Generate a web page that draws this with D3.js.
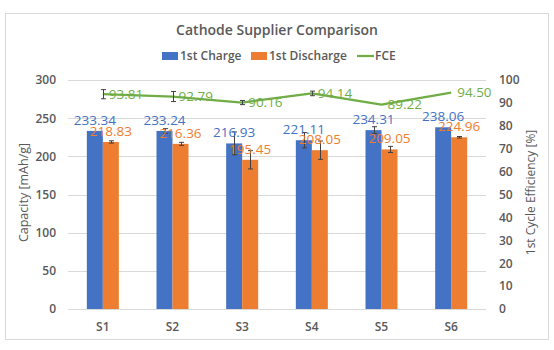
<!DOCTYPE html>
<html>
<head>
<meta charset="utf-8">
<script src="https://cdn.jsdelivr.net/npm/d3@7/dist/d3.min.js"></script>
<style>
  body { margin: 0; background: #fff; }
  text { font-family: "Open Sans", "Noto Sans", sans-serif; }
</style>
</head>
<body>
<div id="chart"></div>
<script>
// data
const suppliers = ['S1', 'S2', 'S3', 'S4', 'S5', 'S6'];
const charge = [233.34, 233.24, 216.93, 221.11, 234.31, 238.06];
const discharge = [218.83, 216.36, 195.45, 208.05, 209.05, 224.96];
const fce = [93.81, 92.79, 90.16, 94.14, 89.22, 94.50];
// error bar half widths (estimated)
const chargeErr = [0, 3, 15, 10, 4.5, 0];
const dischargeErr = [1.5, 2, 12, 12, 4, 1];
const fceErr = [2, 2.2, 0.9, 1, 0, 0];
const leftTicks = [0, 50, 100, 150, 200, 250, 300];
const rightTicks = [0, 10, 20, 30, 40, 50, 60, 70, 80, 90, 100];

const W = 554, H = 350;
const margin = { top: 80, right: 68, bottom: 41, left: 68 };
const width = W - margin.left - margin.right;
const height = H - margin.top - margin.bottom;

const blue = '#4472C4', orange = '#ED7D31', green = '#70AD47', gray = '#595959';

const svg = d3.select('#chart').append('svg')
  .attr('width', W)
  .attr('height', H);

// outer chart border
svg.append('rect')
  .attr('x', 5.5).attr('y', 13.5)
  .attr('width', 543).attr('height', 326)
  .attr('fill', '#fff')
  .attr('stroke', '#d9d9d9');

svg.append('text')
  .attr('x', 277).attr('y', 35)
  .attr('text-anchor', 'middle')
  .attr('font-size', 14).attr('font-weight', 600)
  .attr('fill', gray)
  .text('Cathode Supplier Comparison');

const g = svg.append('g').attr('transform', `translate(${margin.left},${margin.top})`);

const x = d3.scaleBand().domain(suppliers).range([0, width]);
const yL = d3.scaleLinear().domain([0, 300]).range([height, 0]);
const yR = d3.scaleLinear().domain([0, 100]).range([height, 0]);

// gridlines
g.selectAll('.grid')
  .data(leftTicks)
  .join('line')
  .attr('x1', 0).attr('x2', width)
  .attr('y1', d => Math.round(yL(d)) + 0.5)
  .attr('y2', d => Math.round(yL(d)) + 0.5)
  .attr('stroke', '#d9d9d9');

// axes
const leftAxis = g.append('g')
  .call(d3.axisLeft(yL).tickValues(leftTicks).tickSize(0).tickPadding(12));
const rightAxis = g.append('g')
  .attr('transform', `translate(${width},0)`)
  .call(d3.axisRight(yR).tickValues(rightTicks).tickSize(0).tickPadding(13));
const bottomAxis = g.append('g')
  .attr('transform', `translate(0,${height})`)
  .call(d3.axisBottom(x).tickSize(0).tickPadding(13));

[leftAxis, rightAxis, bottomAxis].forEach(a => {
  a.select('.domain').remove();
  a.selectAll('text')
    .attr('font-size', 12).attr('font-weight', 600)
    .attr('fill', gray)
    .style('font-family', '"Open Sans", "Noto Sans", sans-serif');
});

// axis titles
svg.append('text')
  .attr('transform', `translate(28,${margin.top + height / 2 - 2}) rotate(-90)`)
  .attr('text-anchor', 'middle')
  .attr('font-size', 12.5).attr('fill', gray)
  .text('Capacity [mAh/g]');
svg.append('text')
  .attr('transform', `translate(535,${margin.top + height / 2 - 2}) rotate(-90)`)
  .attr('text-anchor', 'middle')
  .attr('font-size', 12).attr('fill', gray)
  .text('1st Cycle Efficiency [%]');

// bars
const barW = 16;
const bars = [
  { vals: charge, color: blue, off: -barW },
  { vals: discharge, color: orange, off: 0 }
];

bars.forEach(s => {
  const cx = i => x(suppliers[i]) + x.bandwidth() / 2 + s.off;
  g.selectAll(null)
    .data(s.vals)
    .join('rect')
    .attr('x', (d, i) => cx(i))
    .attr('y', d => yL(d))
    .attr('width', barW)
    .attr('height', d => height - yL(d))
    .attr('fill', s.color);
});

// error bars
function errorBars(vals, errs, scale, xpos) {
  const eg = g.append('g').attr('stroke', '#404040').attr('stroke-width', 1);
  vals.forEach((v, i) => {
    const e = errs[i];
    if (!e) return;
    const cx = Math.round(xpos(i)) + 0.5;
    const y1 = scale(v - e), y2 = scale(v + e);
    eg.append('line').attr('x1', cx).attr('x2', cx).attr('y1', y1).attr('y2', y2);
    eg.append('line').attr('x1', cx - 2.5).attr('x2', cx + 2.5).attr('y1', y1).attr('y2', y1);
    eg.append('line').attr('x1', cx - 2.5).attr('x2', cx + 2.5).attr('y1', y2).attr('y2', y2);
  });
}

const center = i => x(suppliers[i]) + x.bandwidth() / 2;
errorBars(charge, chargeErr, yL, i => center(i) - barW / 2);
errorBars(discharge, dischargeErr, yL, i => center(i) + barW / 2);

// FCE line
const line = d3.line()
  .x((d, i) => center(i))
  .y(d => yR(d));
g.append('path')
  .datum(fce)
  .attr('d', line)
  .attr('fill', 'none')
  .attr('stroke', green)
  .attr('stroke-width', 2.25)
  .attr('stroke-linejoin', 'round');

errorBars(fce, fceErr, yR, center);

// value labels
g.selectAll(null)
  .data(charge)
  .join('text')
  .attr('x', (d, i) => center(i) - barW / 2)
  .attr('y', d => yL(d) - 6)
  .attr('text-anchor', 'middle')
  .attr('font-size', 13.5).attr('fill', blue)
  .text(d => d.toFixed(2));

g.selectAll(null)
  .data(discharge)
  .join('text')
  .attr('x', (d, i) => center(i) + barW / 2)
  .attr('y', d => yL(d) - 6)
  .attr('text-anchor', 'middle')
  .attr('font-size', 13.5).attr('fill', orange)
  .text(d => d.toFixed(2));

g.selectAll(null)
  .data(fce)
  .join('text')
  .attr('x', (d, i) => center(i) + 6)
  .attr('y', d => yR(d))
  .attr('dy', '0.35em')
  .attr('font-size', 13.5).attr('fill', green)
  .text(d => d.toFixed(2));

// legend
const legend = svg.append('g').attr('transform', 'translate(0,56)');
const items = [
  { label: '1st Charge', color: blue, type: 'rect', x: 162 },
  { label: '1st Discharge', color: orange, type: 'rect', x: 251 },
  { label: 'FCE', color: green, type: 'line', x: 357 }
];
items.forEach(it => {
  if (it.type === 'rect') {
    legend.append('rect')
      .attr('x', it.x).attr('y', -4)
      .attr('width', 16).attr('height', 8)
      .attr('fill', it.color);
  } else {
    legend.append('line')
      .attr('x1', it.x).attr('x2', it.x + 17)
      .attr('y1', 0).attr('y2', 0)
      .attr('stroke', it.color).attr('stroke-width', 2.25);
  }
  legend.append('text')
    .attr('x', it.x + 18).attr('y', 0)
    .attr('dy', '0.35em')
    .attr('font-size', 12).attr('font-weight', 600)
    .attr('fill', gray)
    .text(it.label);
});
</script>
</body>
</html>
